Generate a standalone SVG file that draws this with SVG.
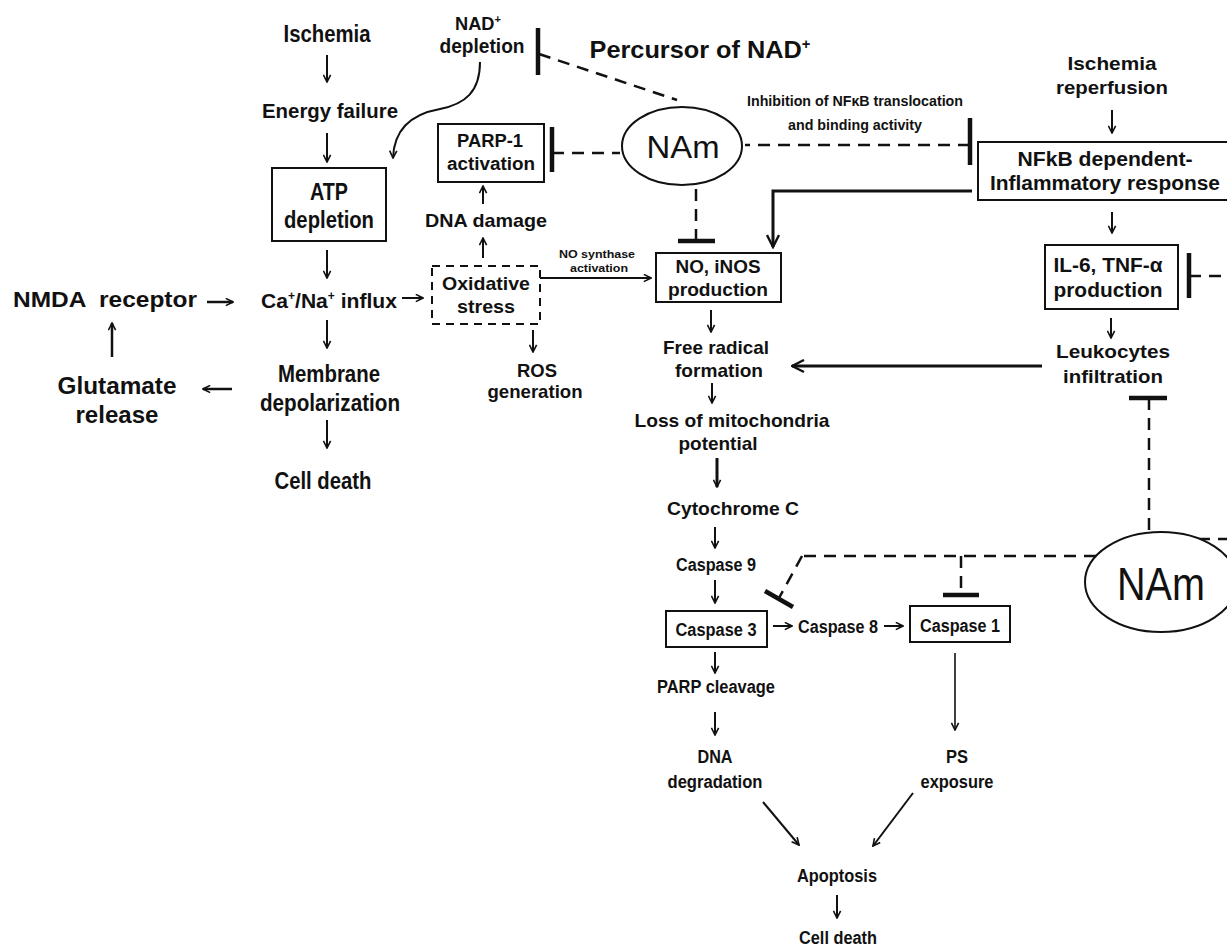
<svg xmlns="http://www.w3.org/2000/svg" width="1227" height="947" viewBox="0 0 1227 947">
<style>
.t{font-family:"Liberation Sans",Arial,sans-serif;font-weight:bold;text-anchor:middle;fill:#111}
.n{font-family:"Liberation Sans",Arial,sans-serif;font-weight:normal;text-anchor:middle;fill:#111}
.box{fill:#fff;stroke:#111;stroke-width:2}
.dbox{fill:#fff;stroke:#111;stroke-width:2;stroke-dasharray:8 6}
.ell{fill:#fff;stroke:#111;stroke-width:2}
.ar{fill:none;stroke:#111;stroke-width:2;marker-end:url(#a)}
.arL{fill:none;stroke:#111;stroke-width:3;marker-end:url(#A)}
.ds{fill:none;stroke:#111;stroke-width:2.5;stroke-dasharray:12 8}
.bar{stroke:#111;stroke-width:4.5;fill:none}
</style>
<defs>
<marker id="a" viewBox="0 0 10 10" refX="9" refY="5" markerWidth="9" markerHeight="9" markerUnits="userSpaceOnUse" orient="auto"><path d="M1,1 L9,5 L1,9" fill="none" stroke="#111" stroke-width="1.8"/></marker>
<marker id="A" viewBox="0 0 10 10" refX="9" refY="5" markerWidth="15" markerHeight="15" markerUnits="userSpaceOnUse" orient="auto"><path d="M1,1 L9,5 L1,9" fill="none" stroke="#111" stroke-width="1.6"/></marker>
</defs>
<rect width="1227" height="947" fill="#fff"/>

<g id="connectors">
<!-- left column -->
<line class="ar" x1="327" y1="55" x2="327" y2="82"/>
<line class="ar" x1="327" y1="133" x2="327" y2="162"/>
<line class="ar" x1="327" y1="250" x2="327" y2="278"/>
<line class="ar" x1="327" y1="320" x2="327" y2="348"/>
<line class="ar" x1="327" y1="420" x2="327" y2="448"/>
<line class="ar" x1="207" y1="302" x2="233" y2="302" style="stroke-width:2.5"/>
<line class="ar" x1="112" y1="357" x2="112" y2="323" style="stroke-width:2.5"/>
<line class="ar" x1="232" y1="389" x2="203" y2="389" style="stroke-width:2.5"/>
<line class="ar" x1="402" y1="298" x2="423" y2="298"/>
<line class="ar" x1="483" y1="258" x2="483" y2="238"/>
<line class="ar" x1="483" y1="204" x2="483" y2="186"/>
<line class="ar" x1="533" y1="330" x2="533" y2="352"/>
<line class="ar" x1="540" y1="278" x2="651" y2="278" style="stroke-width:1.8"/>
<path class="ar" d="M480,62 C480,92 465,104 440,109 C412,114 394,128 393,158"/>
<!-- middle column -->
<line class="ar" x1="711" y1="310" x2="711" y2="332"/>
<line class="ar" x1="712" y1="383" x2="712" y2="403"/>
<line class="ar" x1="717" y1="458" x2="717" y2="487" style="stroke-width:3"/>
<line class="ar" x1="715" y1="527" x2="715" y2="548"/>
<line class="ar" x1="715" y1="580" x2="715" y2="603"/>
<line class="ar" x1="773" y1="626" x2="792" y2="626"/>
<line class="ar" x1="884" y1="626" x2="903" y2="626"/>
<line class="ar" x1="715" y1="652" x2="715" y2="673"/>
<line class="ar" x1="715" y1="712" x2="715" y2="735"/>
<line class="ar" x1="955" y1="653" x2="955" y2="730" style="stroke-width:1.6"/>
<line class="ar" x1="763" y1="802" x2="799" y2="845"/>
<line class="ar" x1="913" y1="793" x2="873" y2="846"/>
<line class="ar" x1="837" y1="895" x2="837" y2="918"/>
<polyline class="arL" points="972,191 773,191 773,247"/>
<line class="arL" x1="1042" y1="366" x2="792" y2="366"/>
<!-- right column -->
<line class="ar" x1="1112" y1="110" x2="1112" y2="133"/>
<line class="ar" x1="1112" y1="212" x2="1112" y2="233"/>
<line class="ar" x1="1111" y1="318" x2="1111" y2="338"/>
<!-- inhibitions -->
<line class="bar" x1="538" y1="28" x2="538" y2="75"/>
<line class="ds" x1="539" y1="54" x2="677" y2="100"/>
<line class="bar" x1="552" y1="127" x2="552" y2="172"/>
<line class="ds" x1="552" y1="153" x2="620" y2="153"/>
<line class="bar" x1="970" y1="118" x2="970" y2="165"/>
<line class="ds" x1="970" y1="145" x2="745" y2="145"/>
<line class="bar" x1="678" y1="241" x2="715" y2="241"/>
<line class="ds" x1="696" y1="241" x2="696" y2="186"/>
<line class="bar" x1="1189" y1="253" x2="1189" y2="298"/>
<line class="ds" x1="1189" y1="276" x2="1227" y2="276"/>
<line class="bar" x1="1129" y1="398" x2="1167" y2="398"/>
<line class="ds" x1="1149" y1="398" x2="1149" y2="533"/>
<line class="ds" x1="1096" y1="556" x2="802" y2="556"/>
<line class="ds" x1="802" y1="556" x2="779" y2="598"/>
<line class="bar" x1="765" y1="591" x2="793" y2="607"/>
<line class="ds" x1="961" y1="556" x2="961" y2="595"/>
<line class="bar" x1="943" y1="595" x2="979" y2="595"/>
<line class="ds" x1="1198" y1="539" x2="1227" y2="539"/>
</g>

<g id="ischemia-left"><text class="t" x="327" y="42" font-size="23" textLength="87" lengthAdjust="spacingAndGlyphs">Ischemia</text></g>
<g id="energy-failure"><text class="t" x="330" y="118" font-size="21" textLength="136" lengthAdjust="spacingAndGlyphs">Energy failure</text></g>
<g id="atp-depletion">
<rect class="box" x="272" y="168" width="114" height="73"/>
<text class="t" x="329" y="200" font-size="24" textLength="38" lengthAdjust="spacingAndGlyphs">ATP</text>
<text class="t" x="329" y="228" font-size="24" textLength="90" lengthAdjust="spacingAndGlyphs">depletion</text>
</g>
<g id="ca-influx"><text class="t" x="329" y="308" font-size="21" textLength="136" lengthAdjust="spacingAndGlyphs">Ca<tspan dy="-8" font-size="12">+</tspan><tspan dy="8">/Na</tspan><tspan dy="-8" font-size="12">+</tspan><tspan dy="8"> influx</tspan></text></g>
<g id="nmda"><text class="t" x="105" y="307" font-size="22" textLength="184" lengthAdjust="spacingAndGlyphs" xml:space="preserve">NMDA  receptor</text></g>
<g id="glutamate">
<text class="t" x="117" y="394" font-size="23" textLength="119" lengthAdjust="spacingAndGlyphs">Glutamate</text>
<text class="t" x="117" y="423" font-size="23" textLength="83" lengthAdjust="spacingAndGlyphs">release</text>
</g>
<g id="membrane">
<text class="t" x="329" y="382" font-size="23" textLength="102" lengthAdjust="spacingAndGlyphs">Membrane</text>
<text class="t" x="330" y="411" font-size="23" textLength="140" lengthAdjust="spacingAndGlyphs">depolarization</text>
</g>
<g id="cell-death-left"><text class="t" x="323" y="489" font-size="23" textLength="97" lengthAdjust="spacingAndGlyphs">Cell death</text></g>

<g id="nad-depletion">
<text class="t" x="478" y="30" font-size="18" textLength="46" lengthAdjust="spacingAndGlyphs">NAD<tspan dy="-7" font-size="11">+</tspan></text>
<text class="t" x="482" y="53" font-size="20" textLength="85" lengthAdjust="spacingAndGlyphs">depletion</text>
</g>
<g id="percursor"><text class="t" x="700" y="58" font-size="24" textLength="221" lengthAdjust="spacingAndGlyphs">Percursor of NAD<tspan dy="-9" font-size="14">+</tspan></text></g>
<g id="nam-top">
<ellipse class="ell" cx="682" cy="146" rx="60" ry="39"/>
<text class="n" x="683" y="158" font-size="32" textLength="73" lengthAdjust="spacingAndGlyphs">NAm</text>
</g>
<g id="parp1">
<rect class="box" x="438" y="124" width="106" height="58"/>
<text class="t" x="490" y="147" font-size="18" textLength="66" lengthAdjust="spacingAndGlyphs">PARP-1</text>
<text class="t" x="491" y="170" font-size="18" textLength="88" lengthAdjust="spacingAndGlyphs">activation</text>
</g>
<g id="dna-damage"><text class="t" x="486" y="227" font-size="19" textLength="122" lengthAdjust="spacingAndGlyphs">DNA damage</text></g>
<g id="oxidative">
<rect class="dbox" x="432" y="266" width="108" height="58"/>
<text class="t" x="486" y="290" font-size="19" textLength="88" lengthAdjust="spacingAndGlyphs">Oxidative</text>
<text class="t" x="486" y="313" font-size="19" textLength="58" lengthAdjust="spacingAndGlyphs">stress</text>
</g>
<g id="ros">
<text class="t" x="537" y="377" font-size="19" textLength="40" lengthAdjust="spacingAndGlyphs">ROS</text>
<text class="t" x="535" y="398" font-size="19" textLength="95" lengthAdjust="spacingAndGlyphs">generation</text>
</g>
<g id="no-synthase-label">
<text class="t" x="597" y="258" font-size="11.5" textLength="76" lengthAdjust="spacingAndGlyphs">NO synthase</text>
<text class="t" x="599" y="272" font-size="11.5" textLength="58" lengthAdjust="spacingAndGlyphs">activation</text>
</g>
<g id="inhibition-label">
<text class="t" x="855" y="106" font-size="14" textLength="216" lengthAdjust="spacingAndGlyphs">Inhibition of NFκB translocation</text>
<text class="t" x="855" y="130" font-size="14" textLength="134" lengthAdjust="spacingAndGlyphs">and binding activity</text>
</g>
<g id="no-inos">
<rect class="box" x="656" y="253" width="125" height="49"/>
<text class="t" x="718" y="273" font-size="19" textLength="85" lengthAdjust="spacingAndGlyphs">NO, iNOS</text>
<text class="t" x="718" y="296" font-size="19" textLength="100" lengthAdjust="spacingAndGlyphs">production</text>
</g>
<g id="free-radical">
<text class="t" x="716" y="354" font-size="19" textLength="106" lengthAdjust="spacingAndGlyphs">Free radical</text>
<text class="t" x="719" y="377" font-size="19" textLength="88" lengthAdjust="spacingAndGlyphs">formation</text>
</g>
<g id="loss-mito">
<text class="t" x="732" y="427" font-size="19" textLength="195" lengthAdjust="spacingAndGlyphs">Loss of mitochondria</text>
<text class="t" x="718" y="450" font-size="19" textLength="79" lengthAdjust="spacingAndGlyphs">potential</text>
</g>
<g id="cytochrome"><text class="t" x="733" y="515" font-size="18" textLength="132" lengthAdjust="spacingAndGlyphs">Cytochrome C</text></g>
<g id="caspase9"><text class="t" x="716" y="571" font-size="18" textLength="80" lengthAdjust="spacingAndGlyphs">Caspase 9</text></g>
<g id="caspase3">
<rect class="box" x="666" y="611" width="101" height="36"/>
<text class="t" x="716" y="636" font-size="18" textLength="81" lengthAdjust="spacingAndGlyphs">Caspase 3</text>
</g>
<g id="caspase8"><text class="t" x="838" y="633" font-size="18" textLength="80" lengthAdjust="spacingAndGlyphs">Caspase 8</text></g>
<g id="caspase1">
<rect class="box" x="910" y="606" width="100" height="36"/>
<text class="t" x="960" y="632" font-size="18" textLength="80" lengthAdjust="spacingAndGlyphs">Caspase 1</text>
</g>
<g id="parp-cleavage"><text class="t" x="716" y="693" font-size="18" textLength="118" lengthAdjust="spacingAndGlyphs">PARP cleavage</text></g>
<g id="dna-degradation">
<text class="t" x="715" y="763" font-size="18" textLength="35" lengthAdjust="spacingAndGlyphs">DNA</text>
<text class="t" x="715" y="788" font-size="18" textLength="95" lengthAdjust="spacingAndGlyphs">degradation</text>
</g>
<g id="ps-exposure">
<text class="t" x="957" y="763" font-size="18" textLength="22" lengthAdjust="spacingAndGlyphs">PS</text>
<text class="t" x="957" y="788" font-size="18" textLength="73" lengthAdjust="spacingAndGlyphs">exposure</text>
</g>
<g id="apoptosis"><text class="t" x="837" y="882" font-size="18" textLength="80" lengthAdjust="spacingAndGlyphs">Apoptosis</text></g>
<g id="cell-death-bottom"><text class="t" x="838" y="944" font-size="18" textLength="78" lengthAdjust="spacingAndGlyphs">Cell death</text></g>

<g id="ischemia-reperfusion">
<text class="t" x="1112" y="70" font-size="19" textLength="89" lengthAdjust="spacingAndGlyphs">Ischemia</text>
<text class="t" x="1112" y="94" font-size="19" textLength="112" lengthAdjust="spacingAndGlyphs">reperfusion</text>
</g>
<g id="nfkb">
<rect class="box" x="978" y="142" width="262" height="58"/>
<text class="t" x="1105" y="166" font-size="20" textLength="175" lengthAdjust="spacingAndGlyphs">NFkB dependent-</text>
<text class="t" x="1105" y="190" font-size="20" textLength="230" lengthAdjust="spacingAndGlyphs">Inflammatory response</text>
</g>
<g id="il6">
<rect class="box" x="1045" y="245" width="133" height="64"/>
<text class="t" x="1108" y="272" font-size="21" textLength="109" lengthAdjust="spacingAndGlyphs">IL-6, TNF-α</text>
<text class="t" x="1108" y="297" font-size="21" textLength="109" lengthAdjust="spacingAndGlyphs">production</text>
</g>
<g id="leukocytes">
<text class="t" x="1113" y="358" font-size="19" textLength="114" lengthAdjust="spacingAndGlyphs">Leukocytes</text>
<text class="t" x="1113" y="383" font-size="19" textLength="100" lengthAdjust="spacingAndGlyphs">infiltration</text>
</g>
<g id="nam-right">
<ellipse class="ell" cx="1161" cy="582" rx="76" ry="50"/>
<text class="n" x="1161" y="600" font-size="46" textLength="88" lengthAdjust="spacingAndGlyphs">NAm</text>
</g>
</svg>
